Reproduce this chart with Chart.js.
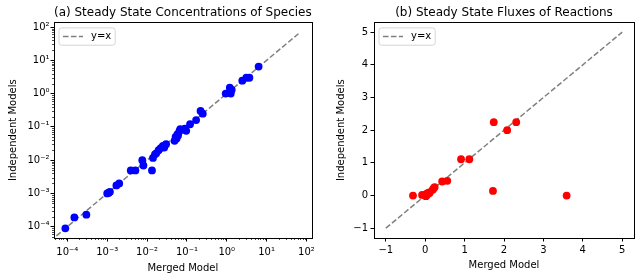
<!DOCTYPE html>
<html><head><meta charset="utf-8">
<script src="https://cdn.jsdelivr.net/npm/chart.js@4.4.1/dist/chart.umd.min.js"></script>
<style>
html,body{margin:0;padding:0;background:#fff;}
#wrap{position:relative;width:640px;height:280px;overflow:hidden;}
.c{position:absolute;top:0;width:320px;height:280px;}
</style></head><body>
<div id="wrap">
<div class="c" style="left:0"><canvas id="c1" width="320" height="280"></canvas></div>
<div class="c" style="left:320px"><canvas id="c2" width="320" height="280"></canvas></div>
</div>
<script>
// ---- data ----
const speciesMerged = [8.9e-5,1.5e-4,3.0e-4,1.0e-3,1.1e-3,1.17e-3,1.7e-3,2.0e-3,3.9e-3,5.1e-3,7.6e-3,8.1e-3,1.33e-2,1.41e-2,1.58e-2,1.7e-2,1.95e-2,2.2e-2,2.5e-2,2.7e-2,3.0e-2,4.9e-2,5.2e-2,5.5e-2,5.8e-2,6.0e-2,6.5e-2,6.8e-2,8.9e-2,9.6e-2,0.12,0.17,0.22,0.25,0.94,1.19,1.26,1.33,2.45,3.1,3.7,6.3];
const speciesIndependent = [8.9e-5,1.9e-4,2.3e-4,1.0e-3,1.05e-3,1.12e-3,1.74e-3,2.0e-3,4.9e-3,4.9e-3,1.0e-2,6.9e-3,4.9e-3,1.17e-2,1.5e-2,1.6e-2,2.0e-2,2.3e-2,2.7e-2,2.4e-2,3.0e-2,3.8e-2,5.0e-2,4.5e-2,6.0e-2,5.5e-2,7.4e-2,8.5e-2,8.9e-2,7.6e-2,0.12,0.16,0.30,0.25,1.0,1.5,1.0,1.3,2.45,3.0,3.0,6.5];
const fluxMerged = [-0.31,-0.08,0.0,0.02,0.03,0.05,0.07,0.1,0.12,0.19,0.22,0.24,0.43,0.56,0.91,1.12,1.72,3.59,1.74,2.08,2.31];
const fluxIndependent = [0.0,0.02,0.0,-0.02,0.05,0.03,0.08,0.07,0.1,0.18,0.23,0.26,0.43,0.45,1.11,1.11,0.14,0.0,2.245,2.0,2.245];
const identityConc = [5.3e-5, 63];
const identityFlux = [-1, 5];
const logTickValues = [1e-4,1e-3,1e-2,1e-1,1,10,100];
const logTickLabels = ['10⁻⁴','10⁻³','10⁻²','10⁻¹','10⁰','10¹','10²'];
const linTickValues = [-1,0,1,2,3,4,5];
const linTickLabels = ['−1','0','1','2','3','4','5'];
const titles = ['(a) Steady State Concentrations of Species','(b) Steady State Fluxes of Reactions'];
const xLabel = 'Merged Model';
const yLabel = 'Independent Models';
const legendLabel = 'y=x';

const FONT = 'DejaVu Sans';
const TXT = '#000';

function pts(xs, ys){ return xs.map((x,i)=>({x:x, y:ys[i]})); }

const framePlugin = {
  id: 'frame',
  afterDatasetsDraw(chart, args, opts){
    const ctx = chart.ctx, a = chart.chartArea;
    ctx.save();
    // minor ticks for log axes
    if (opts.logMinor) {
      ctx.strokeStyle = TXT; ctx.lineWidth = 0.7;
      const xs = chart.scales.x, ys = chart.scales.y;
      for (let k=-6;k<=3;k++){
        for (let m=2;m<=9;m++){
          const v = m*Math.pow(10,k);
          if (v > xs.min && v < xs.max){
            const p = Math.round(xs.getPixelForValue(v))+0.5;
            ctx.beginPath(); ctx.moveTo(p,a.bottom); ctx.lineTo(p,a.bottom+2); ctx.stroke();
          }
          if (v > ys.min && v < ys.max){
            const p = Math.round(ys.getPixelForValue(v))+0.5;
            ctx.beginPath(); ctx.moveTo(a.left,p); ctx.lineTo(a.left-2,p); ctx.stroke();
          }
        }
      }
    }
    // legend
    ctx.font = '10px "' + FONT + '"';
    const tw = ctx.measureText(legendLabel).width;
    const bx = a.left + 5, by = a.top + 5.5, bw = 36 + tw, bh = 17.3, r = 2.5;
    ctx.beginPath();
    ctx.moveTo(bx+r,by); ctx.lineTo(bx+bw-r,by); ctx.arcTo(bx+bw,by,bx+bw,by+r,r);
    ctx.lineTo(bx+bw,by+bh-r); ctx.arcTo(bx+bw,by+bh,bx+bw-r,by+bh,r);
    ctx.lineTo(bx+r,by+bh); ctx.arcTo(bx,by+bh,bx,by+bh-r,r);
    ctx.lineTo(bx,by+r); ctx.arcTo(bx,by,bx+r,by,r); ctx.closePath();
    ctx.fillStyle = 'rgba(255,255,255,0.8)'; ctx.fill();
    ctx.strokeStyle = '#d6d6d6'; ctx.lineWidth = 1; ctx.stroke();
    const cy = by + bh/2;
    ctx.strokeStyle = '#808080'; ctx.lineWidth = 1.5; ctx.setLineDash([5.55,2.4]);
    ctx.beginPath(); ctx.moveTo(bx+4,cy); ctx.lineTo(bx+24,cy); ctx.stroke();
    ctx.setLineDash([]);
    ctx.fillStyle = TXT; ctx.textBaseline = 'middle'; ctx.textAlign = 'left';
    ctx.fillText(legendLabel, bx+32, cy);
    // full box
    ctx.strokeStyle = TXT; ctx.lineWidth = 1;
    ctx.strokeRect(Math.round(a.left)+0.5, Math.round(a.top)+0.5, Math.round(a.right)-Math.round(a.left), Math.round(a.bottom)-Math.round(a.top));
    ctx.restore();
  }
};

function axisCommon(values, labels, pad){
  return {
    afterBuildTicks: s => { s.ticks = values.map(v=>({value:v})); },
    ticks: {
      callback: (v) => { const i = values.findIndex(t => Math.abs(t - v) <= Math.abs(t)*1e-6 + 1e-12); return i>=0 ? labels[i] : ''; },
      font: {family: FONT, size: 10}, color: TXT, padding: pad, maxRotation: 0, autoSkip: false
    },
    grid: {drawOnChartArea:false, drawTicks:true, tickLength:3.5, tickColor:TXT, tickWidth:1},
    border: {display:false}
  };
}

function makeChart(id, cfg){
  const xAxis = Object.assign({
    type: cfg.type, min: cfg.xmin, max: cfg.xmax,
    title: {display:true, text:xLabel, font:{family:FONT,size:10}, color:TXT, padding:{top:0,bottom:cfg.xTitlePad}},
    afterFit: s => { s.height = 42; }
  }, axisCommon(cfg.ticks, cfg.labels, cfg.xTickPad));
  const yAxis = Object.assign({
    type: cfg.type, min: cfg.ymin, max: cfg.ymax,
    title: {display:true, text:yLabel, font:{family:FONT,size:10}, color:TXT, padding:{top:cfg.yTitlePad,bottom:0}},
    afterFit: s => { s.width = cfg.yWidth; }
  }, axisCommon(cfg.ticks, cfg.labels, cfg.yTickPad));
  return new Chart(document.getElementById(id), {
    type: 'scatter',
    data: { datasets: [
      { label: 'points', data: pts(cfg.xs, cfg.ys), backgroundColor: cfg.color, borderWidth: 0, pointRadius: 3.9, pointHoverRadius: 3.9 },
      { label: legendLabel, type: 'line', data: pts(cfg.line, cfg.line), showLine: true, borderColor: '#808080', borderWidth: 1.5, borderDash: [5.55,2.4], pointRadius: 0, fill: false, tension: 0 }
    ]},
    options: {
      responsive: false, animation: false, events: [],
      layout: { padding: {left:0, right:cfg.rightPad, top:0, bottom:0} },
      plugins: {
        legend: {display:false}, tooltip: {enabled:false},
        title: {display:true, text: cfg.title, fullSize:false, font:{family:FONT,size:12,weight:'normal'}, color:TXT, padding:{top:5.5,bottom:2.5}},
        frame: {logMinor: cfg.type === 'logarithmic'}
      },
      scales: { x: xAxis, y: yAxis }
    },
    plugins: [framePlugin]
  });
}

makeChart('c1', {
  type:'logarithmic', xmin: Math.pow(10,-4.335), xmax: Math.pow(10,2.13), ymin: Math.pow(10,-4.34), ymax: Math.pow(10,2.14),
  ticks: logTickValues, labels: logTickLabels, xs: speciesMerged, ys: speciesIndependent, line: identityConc,
  color:'#0000ff', title: titles[0], yWidth: 54, rightPad: 8, xTickPad: 5, yTickPad: 1, xTitlePad: 5.7, yTitlePad: 7
});
makeChart('c2', {
  type:'linear', xmin: -1.3, xmax: 5.3, ymin: -1.3, ymax: 5.3,
  ticks: linTickValues, labels: linTickLabels, xs: fluxMerged, ys: fluxIndependent, line: identityFlux,
  color:'#ff0000', title: titles[1], yWidth: 54, rightPad: 6, xTickPad: 3, yTickPad: 2.5, xTitlePad: 9, yTitlePad: 15.7
});
</script>
</body></html>
